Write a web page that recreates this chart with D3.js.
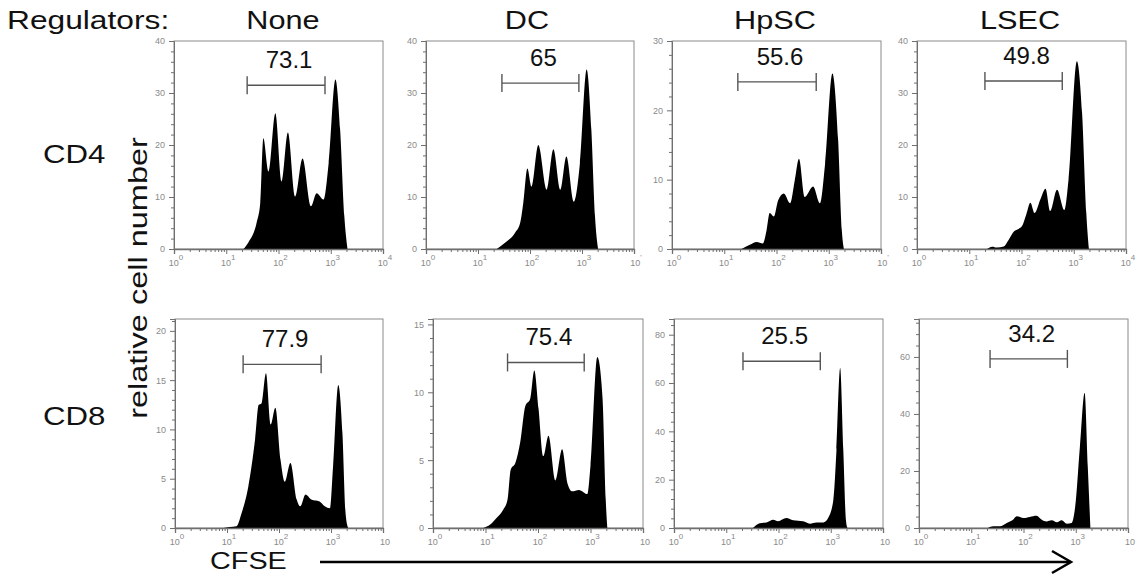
<!DOCTYPE html>
<html>
<head>
<meta charset="utf-8">
<script src="https://cdn.jsdelivr.net/npm/d3@7"></script>
<style>
  html, body { margin: 0; padding: 0; background: #fff; }
  svg { display: block; font-family: "Liberation Sans", Arial, sans-serif; }
</style>
</head>
<body>
<svg id="chart" width="1138" height="580"></svg>
<script>
// ---------------- DATA ----------------
const columns = ["None", "DC", "HpSC", "LSEC"];
const rows = ["CD4", "CD8"];
const rowLabelTitle = "Regulators:";
const yAxisTitle = "relative cell number";
const xAxisTitle = "CFSE";

// gate percentages (panel order: CD4 None, DC, HpSC, LSEC, CD8 None, DC, HpSC, LSEC)
const gateLabels = ["73.1", "65", "55.6", "49.8", "77.9", "75.4", "25.5", "34.2"];
// gate bounds, as log10(CFSE)
const gateLow  = [1.40, 1.46, 1.26, 1.30, 1.31, 1.42, 1.32, 1.36];
const gateHigh = [2.89, 2.94, 2.76, 2.78, 2.81, 2.88, 2.80, 2.84];
// gate height, in cell counts
const gateLevel = [31.5, 31.9, 24.1, 32.3, 16.6, 12.2, 69, 59.3];

// y axis ranges and tick values
const yMax = [40, 40, 30, 40, 21.2, 15.4, 86.5, 73.3];
const yTicks = [
  [0, 10, 20, 30, 40], [0, 10, 20, 30, 40], [0, 10, 20, 30], [0, 10, 20, 30, 40],
  [0, 5, 10, 15, 20], [0, 5, 10, 15], [0, 20, 40, 60, 80], [0, 20, 40, 60]
];
const yMinorStep = [2, 2, 2, 2, 1, 1, 4, 4];

// x axis tick exponents (10^n) and labels' superscripts shown
const xTickExps = [0, 1, 2, 3, 4];
const xTickSup = [
  ["0", "1", "2", "3", "4"], ["0", "1", "2", "3", "'"], ["0", "1", "2", "3", "'"], ["0", "1", "2", "3", "4"],
  ["0", "1", "2", "3", ""], ["0", "1", "2", "3", ""], ["0", "1", "2", "3", ""], ["0", "1", "2", "3", ""]
];

// histograms: [log10(CFSE), count]
const cd4None = [[1.33,0],[1.42,1.2],[1.58,5],[1.65,8.8],[1.71,21.3],[1.81,14.9],[1.94,26.1],[2.06,13],
  [2.18,22.4],[2.32,10.1],[2.46,17.4],[2.62,8.2],[2.73,10.7],[2.86,9.5],[2.96,16.5],[3.09,32.6],
  [3.18,22.9],[3.26,6.3],[3.32,0]];
const cd4DC = [[1.36,0],[1.52,1.2],[1.71,3.1],[1.81,5],[1.87,8.8],[1.95,15.5],[2.03,12],[2.16,20],
  [2.32,11.4],[2.45,19.2],[2.58,11.4],[2.70,17.8],[2.84,9.1],[2.96,16.5],[3.09,34.5],[3.18,22.9],
  [3.25,6.3],[3.31,0]];
const cd4HpSC = [[1.33,0],[1.49,0.6],[1.62,1],[1.74,0.8],[1.81,2.7],[1.87,5.2],[1.95,4.7],[2.03,7],
  [2.14,8],[2.26,6.6],[2.35,9.9],[2.43,13],[2.54,7.5],[2.70,9],[2.83,6.6],[2.93,12.3],[3.07,25.3],
  [3.18,15.7],[3.25,2.7],[3.29,0]];
const cd4LSEC = [[1.34,0],[1.44,0.45],[1.53,0.3],[1.66,0.5],[1.75,1.7],[1.85,3.3],[1.95,3.9],[2.01,4.4],
  [2.09,6.6],[2.17,8.9],[2.25,6.9],[2.36,9.5],[2.46,11.6],[2.55,7.3],[2.68,11.4],[2.82,7.5],[2.90,13.3],
  [3.06,36.1],[3.16,26.1],[3.24,6.9],[3.29,0]];
const cd8None = [[0.93,0],[1.05,0.1],[1.18,0.17],[1.28,1.5],[1.41,4.2],[1.54,9],[1.61,12.5],[1.66,12.6],
  [1.75,15.7],[1.84,10.5],[1.93,12.2],[2.03,6.9],[2.11,4.7],[2.22,6.6],[2.34,2.9],[2.41,2.2],[2.51,3.4],
  [2.62,2.9],[2.78,2.7],[2.88,2.2],[2.98,2],[3.04,6.3],[3.14,14.5],[3.22,9.6],[3.28,1.5],[3.33,0]];
const cd8DC = [[0.96,0],[1.09,0.25],[1.21,0.74],[1.34,1.36],[1.42,2.1],[1.48,4.3],[1.57,4.8],[1.66,6.3],
  [1.76,9],[1.85,9.5],[1.93,11.6],[2.01,8.8],[2.10,5.3],[2.20,6.8],[2.33,3.5],[2.46,5.8],[2.56,3.3],
  [2.65,2.7],[2.78,2.8],[2.94,2.5],[3.0,4.6],[3.13,12.6],[3.23,9.5],[3.29,2.1],[3.32,0]];
const cd8HpSC = [[1.51,0],[1.64,2],[1.77,2.3],[1.90,3.4],[1.99,2.8],[2.15,4.1],[2.28,3.2],[2.47,2.8],
  [2.60,1.8],[2.73,2.3],[2.86,2.3],[2.95,4.1],[3.05,11.7],[3.11,32.4],[3.18,66.2],[3.24,32.4],
  [3.29,3.4],[3.32,0]];
const cd8LSEC = [[1.32,0],[1.42,0.6],[1.55,0.6],[1.68,1.75],[1.80,2.9],[1.87,4.1],[2.0,3.5],[2.12,3.9],
  [2.25,4.3],[2.35,2.9],[2.44,2.3],[2.54,2.7],[2.64,2],[2.73,2.7],[2.83,1.5],[2.92,1.75],[2.99,7.6],
  [3.08,28.7],[3.17,47.4],[3.23,21.6],[3.28,0]];
const histograms = [cd4None, cd4DC, cd4HpSC, cd4LSEC, cd8None, cd8DC, cd8HpSC, cd8LSEC];

// ---------------- LAYOUT ----------------
const panelLeft = [174, 426, 672, 917, 175, 433, 674, 919];
const panelWidth = [209, 208, 209, 209, 208, 210, 209, 209];
const rowTop = [41, 319];
const rowBottom = [249, 528];

const svg = d3.select("#chart");
const axisColor = "#6f6f6f";
const frameColor = "#8a8a8a";
const tickTextColor = "#8a8a8a";

histograms.forEach((hist, i) => {
  const r = Math.floor(i / 4);
  const x0 = panelLeft[i], x1 = panelLeft[i] + panelWidth[i];
  const y0 = rowBottom[r], y1 = rowTop[r];

  const x = d3.scaleLog().domain([1, 1e4]).range([x0, x1]);
  const y = d3.scaleLinear().domain([0, yMax[i]]).range([y0, y1]);

  const g = svg.append("g");

  // frame
  g.append("rect")
    .attr("x", x0).attr("y", y1)
    .attr("width", x1 - x0).attr("height", y0 - y1)
    .attr("fill", "none").attr("stroke", frameColor).attr("stroke-width", 1);

  // histogram
  const area = d3.area()
    .x(d => x(Math.pow(10, d[0])))
    .y0(y(0))
    .y1(d => y(d[1]))
    .curve(d3.curveMonotoneX);
  g.append("path").datum(hist).attr("d", area).attr("fill", "#000");

  // y axis: major
  const yAxis = d3.axisLeft(y).tickValues(yTicks[i]).tickSize(5).tickPadding(4).tickFormat(d3.format("d"));
  const ya = g.append("g").attr("transform", `translate(${x0},0)`).call(yAxis);
  ya.select(".domain").attr("stroke", axisColor);
  ya.selectAll(".tick line").attr("stroke", axisColor);
  ya.selectAll(".tick text").attr("fill", tickTextColor).style("font-size", "9px")
    .style("font-family", "Liberation Sans, Arial, sans-serif");
  // y axis: minor
  const minor = d3.range(0, yMax[i] + 1e-9, yMinorStep[i]).filter(v => !yTicks[i].includes(v));
  const ym = d3.axisLeft(y).tickValues(minor).tickSize(3).tickFormat("");
  const ymg = g.append("g").attr("transform", `translate(${x0},0)`).call(ym);
  ymg.select(".domain").remove();
  ymg.selectAll(".tick line").attr("stroke", axisColor);

  // x axis: major
  const majors = xTickExps.map(e => Math.pow(10, e));
  const xAxis = d3.axisBottom(x).tickValues(majors).tickSize(5).tickFormat("");
  const xa = g.append("g").attr("transform", `translate(0,${y0})`).call(xAxis);
  xa.select(".domain").attr("stroke", axisColor).attr("stroke-width", 1.3);
  xa.selectAll(".tick line").attr("stroke", axisColor);
  // x axis: minor
  const minors = [];
  for (let e = 0; e < 4; e++) for (let m = 2; m <= 9; m++) minors.push(m * Math.pow(10, e));
  const xm = d3.axisBottom(x).tickValues(minors).tickSize(3).tickFormat("");
  const xmg = g.append("g").attr("transform", `translate(0,${y0})`).call(xm);
  xmg.select(".domain").remove();
  xmg.selectAll(".tick line").attr("stroke", axisColor);

  // x tick labels 10^n
  xTickExps.forEach((e, k) => {
    const t = g.append("text")
      .attr("x", x(Math.pow(10, e)) + 2).attr("y", y0 + 17)
      .attr("text-anchor", "middle")
      .attr("fill", tickTextColor).style("font-size", "9px");
    t.append("tspan").text("10");
    t.append("tspan").attr("dy", -6).style("font-size", "8px").text(xTickSup[i][k]);
  });

  // gate
  const gx0 = x(Math.pow(10, gateLow[i])), gx1 = x(Math.pow(10, gateHigh[i]));
  const gy = y(gateLevel[i]);
  const gate = g.append("g").attr("stroke", "#555").attr("stroke-width", 1.4);
  gate.append("line").attr("x1", gx0).attr("x2", gx1).attr("y1", gy).attr("y2", gy);
  gate.append("line").attr("x1", gx0).attr("x2", gx0).attr("y1", gy - 9).attr("y2", gy + 9);
  gate.append("line").attr("x1", gx1).attr("x2", gx1).attr("y1", gy - 9).attr("y2", gy + 9);
  g.append("text")
    .attr("x", (gx0 + gx1) / 2 + 3).attr("y", gy - 17)
    .attr("text-anchor", "middle")
    .attr("fill", "#111").style("font-size", "24px")
    .text(gateLabels[i]);
});

// ---------------- HEADERS ----------------
function stretchedText(txt, x, y, size, sx, anchor) {
  svg.append("text")
    .attr("transform", `translate(${x},${y}) scale(${sx},1)`)
    .attr("text-anchor", anchor)
    .attr("fill", "#111").style("font-size", size + "px")
    .text(txt);
}
stretchedText(rowLabelTitle, 7, 29, 26, 1.22, "start");
const colCenters = [283, 527, 775, 1020];
columns.forEach((c, k) => stretchedText(c, colCenters[k], 29, 26, 1.18, "middle"));
const rowBaselines = [163, 425];
rows.forEach((rw, k) => stretchedText(rw, 43, rowBaselines[k], 26, 1.2, "start"));

// vertical axis title
svg.append("text")
  .attr("transform", "translate(147,278) rotate(-90) scale(1.3,1)")
  .attr("text-anchor", "middle")
  .attr("fill", "#111").style("font-size", "25px")
  .text(yAxisTitle);

// CFSE and arrow
stretchedText(xAxisTitle, 210, 569, 24, 1.2, "start");
const arrow = svg.append("g").attr("stroke", "#000").attr("stroke-width", 2.5).attr("fill", "none");
arrow.append("line").attr("x1", 320).attr("x2", 1070).attr("y1", 562).attr("y2", 562);
arrow.append("polyline").attr("points", "1052,551 1071,562 1052,573");
</script>
</body>
</html>
